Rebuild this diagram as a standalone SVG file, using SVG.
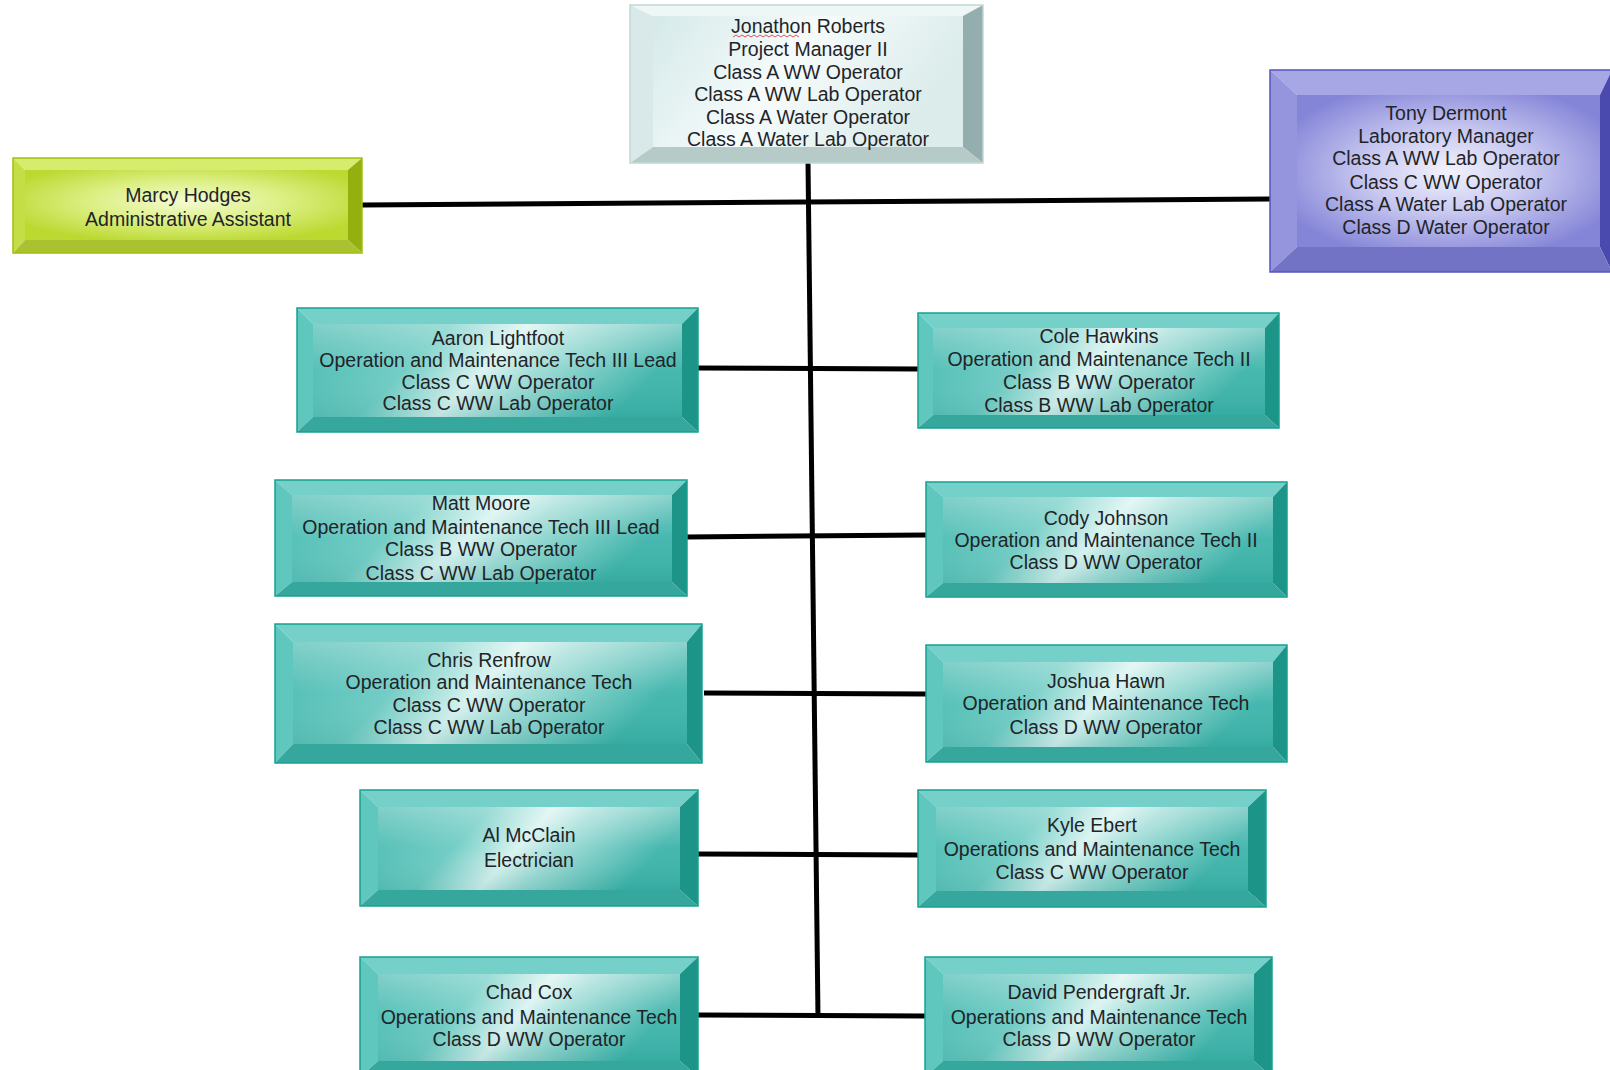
<svg xmlns="http://www.w3.org/2000/svg" width="1610" height="1070" viewBox="0 0 1610 1070">
<defs>
<linearGradient id="gTeal" x1="0" y1="0" x2="1" y2="0.25">
<stop offset="0" stop-color="#3fb7ad"/>
<stop offset="0.35" stop-color="#6ccbc3"/>
<stop offset="0.55" stop-color="#d8f3f0"/>
<stop offset="0.68" stop-color="#9fdcd6"/>
<stop offset="1" stop-color="#3db4aa"/>
</linearGradient>
<linearGradient id="gSheen" x1="0" y1="0" x2="0" y2="1">
<stop offset="0" stop-color="#ffffff" stop-opacity="0.35"/>
<stop offset="0.5" stop-color="#ffffff" stop-opacity="0.05"/>
<stop offset="1" stop-color="#006860" stop-opacity="0.12"/>
</linearGradient>
<linearGradient id="gTop" x1="0" y1="0" x2="1" y2="0.3">
<stop offset="0" stop-color="#d5e9e9"/>
<stop offset="0.5" stop-color="#f6fbfb"/>
<stop offset="1" stop-color="#dbeceb"/>
</linearGradient>
<radialGradient id="gPurple" cx="0.5" cy="0.5" r="0.6">
<stop offset="0" stop-color="#f2f2fd"/>
<stop offset="0.45" stop-color="#c9c9f1"/>
<stop offset="1" stop-color="#8585d8"/>
</radialGradient>
<radialGradient id="gGreen" cx="0.5" cy="0.45" r="0.6">
<stop offset="0" stop-color="#f4fbd2"/>
<stop offset="0.5" stop-color="#dcef84"/>
<stop offset="1" stop-color="#bcd932"/>
</radialGradient>
</defs>
<style>
text{font-family:"Liberation Sans",Arial,Helvetica,sans-serif;font-size:19.5px;fill:#1f2429;text-anchor:middle}
.edge{fill:none;stroke-width:1.5}
.teal .bt{fill:#74d0c8}.teal .bl{fill:#5fc7be}.teal .br{fill:#1d9488}.teal .bb{fill:#36a79c}
.teal .face{fill:url(#gTeal)}.teal .edge{stroke:#17a091}
.sheen{fill:url(#gSheen)}
.grey .bt{fill:#eef6f6}.grey .bl{fill:#d9e9e9}.grey .br{fill:#93aeac}.grey .bb{fill:#b6cac8}
.grey .face{fill:url(#gTop)}.grey .edge{stroke:#c2d6d6}
.purple .bt{fill:#a7a7e5}.purple .bl{fill:#9595dd}.purple .br{fill:#4a4aae}.purple .bb{fill:#7373c6}
.purple .face{fill:url(#gPurple)}.purple .edge{stroke:#5656bd}
.green .bt{fill:#d6ec6c}.green .bl{fill:#c4df46}.green .br{fill:#93b00f}.green .bb{fill:#aac22f}
.green .face{fill:url(#gGreen)}.green .edge{stroke:#9ec113}
.conn{stroke:#000;stroke-width:5;fill:none;stroke-linecap:butt}
</style>
<rect width="1610" height="1070" fill="#ffffff"/>

<g id="connectors">
<line class="conn" x1="808" y1="162" x2="818" y2="1018"/>
<line class="conn" x1="362" y1="205" x2="1270" y2="199"/>
<line class="conn" x1="698" y1="368" x2="918" y2="369"/>
<line class="conn" x1="687" y1="537" x2="926" y2="535"/>
<line class="conn" x1="704" y1="693" x2="926" y2="694"/>
<line class="conn" x1="698" y1="854" x2="918" y2="855"/>
<line class="conn" x1="698" y1="1015" x2="925" y2="1016"/>
</g>

<g id="node-jonathon" class="grey">
<polygon class="bt" points="630,5 983,5 963,16 653,16"/>
<polygon class="bl" points="630,5 653,16 653,147 630,163"/>
<polygon class="br" points="983,5 983,163 963,147 963,16"/>
<polygon class="bb" points="630,163 983,163 963,147 653,147"/>
<rect class="face" x="653" y="16" width="310" height="131"/>
<rect class="edge" x="630" y="5" width="353" height="158"/>
<path d="M733,37 l3,-2 3,2 3,-2 3,2 3,-2 3,2 3,-2 3,2 3,-2 3,2 3,-2 3,2 3,-2 3,2 3,-2 3,2 3,-2 3,2 3,-2 3,2 3,-2 3,2" fill="none" stroke="#e05060" stroke-width="1"/>
<text x="808" y="33">Jonathon Roberts</text>
<text x="808" y="56">Project Manager II</text>
<text x="808" y="78.5">Class A WW Operator</text>
<text x="808" y="101">Class A WW Lab Operator</text>
<text x="808" y="123.5">Class A Water Operator</text>
<text x="808" y="146">Class A Water Lab Operator</text>
</g>

<g id="node-tony" class="purple">
<polygon class="bt" points="1270,70 1612,70 1600,95 1297,95"/>
<polygon class="bl" points="1270,70 1297,95 1297,247 1270,272"/>
<polygon class="br" points="1612,70 1612,272 1600,247 1600,95"/>
<polygon class="bb" points="1270,272 1612,272 1600,247 1297,247"/>
<rect class="face" x="1297" y="95" width="303" height="152"/>
<rect class="edge" x="1270" y="70" width="342" height="202"/>
<text x="1446" y="120">Tony Dermont</text>
<text x="1446" y="142.5">Laboratory Manager</text>
<text x="1446" y="165">Class A WW Lab Operator</text>
<text x="1446" y="188.5">Class C WW Operator</text>
<text x="1446" y="211">Class A Water Lab Operator</text>
<text x="1446" y="234">Class D Water Operator</text>
</g>

<g id="node-marcy" class="green">
<polygon class="bt" points="13,158 362,158 348,170 25,170"/>
<polygon class="bl" points="13,158 25,170 25,240 13,253"/>
<polygon class="br" points="362,158 362,253 348,240 348,170"/>
<polygon class="bb" points="13,253 362,253 348,240 25,240"/>
<rect class="face" x="25" y="170" width="323" height="70"/>
<rect class="edge" x="13" y="158" width="349" height="95"/>
<text x="188" y="201.5">Marcy Hodges</text>
<text x="188" y="226">Administrative Assistant</text>
</g>

<g id="node-aaron" class="teal">
<polygon class="bt" points="297,308 698,308 682,324 313,324"/>
<polygon class="bl" points="297,308 313,324 313,417 297,432"/>
<polygon class="br" points="698,308 698,432 682,417 682,324"/>
<polygon class="bb" points="297,432 698,432 682,417 313,417"/>
<rect class="face" x="313" y="324" width="369" height="93"/>
<rect class="sheen" x="313" y="324" width="369" height="93"/>
<rect class="edge" x="297" y="308" width="401" height="124"/>
<text x="498" y="345">Aaron Lightfoot</text>
<text x="498" y="367">Operation and Maintenance Tech III Lead</text>
<text x="498" y="389">Class C WW Operator</text>
<text x="498" y="410">Class C WW Lab Operator</text>
</g>

<g id="node-cole" class="teal">
<polygon class="bt" points="918,313 1279,313 1265,328 933,328"/>
<polygon class="bl" points="918,313 933,328 933,415 918,428"/>
<polygon class="br" points="1279,313 1279,428 1265,415 1265,328"/>
<polygon class="bb" points="918,428 1279,428 1265,415 933,415"/>
<rect class="face" x="933" y="328" width="332" height="87"/>
<rect class="sheen" x="933" y="328" width="332" height="87"/>
<rect class="edge" x="918" y="313" width="361" height="115"/>
<text x="1099" y="343">Cole Hawkins</text>
<text x="1099" y="366">Operation and Maintenance Tech II</text>
<text x="1099" y="389">Class B WW Operator</text>
<text x="1099" y="412">Class B WW Lab Operator</text>
</g>

<g id="node-matt" class="teal">
<polygon class="bt" points="275,480 687,480 672,495 292,495"/>
<polygon class="bl" points="275,480 292,495 292,582 275,596"/>
<polygon class="br" points="687,480 687,596 672,582 672,495"/>
<polygon class="bb" points="275,596 687,596 672,582 292,582"/>
<rect class="face" x="292" y="495" width="380" height="87"/>
<rect class="sheen" x="292" y="495" width="380" height="87"/>
<rect class="edge" x="275" y="480" width="412" height="116"/>
<text x="481" y="510">Matt Moore</text>
<text x="481" y="533.5">Operation and Maintenance Tech III Lead</text>
<text x="481" y="556">Class B WW Operator</text>
<text x="481" y="580">Class C WW Lab Operator</text>
</g>

<g id="node-cody" class="teal">
<polygon class="bt" points="926,482 1287,482 1273,497 943,497"/>
<polygon class="bl" points="926,482 943,497 943,583 926,597"/>
<polygon class="br" points="1287,482 1287,597 1273,583 1273,497"/>
<polygon class="bb" points="926,597 1287,597 1273,583 943,583"/>
<rect class="face" x="943" y="497" width="330" height="86"/>
<rect class="sheen" x="943" y="497" width="330" height="86"/>
<rect class="edge" x="926" y="482" width="361" height="115"/>
<text x="1106" y="525">Cody Johnson</text>
<text x="1106" y="547">Operation and Maintenance Tech II</text>
<text x="1106" y="569">Class D WW Operator</text>
</g>

<g id="node-chris" class="teal">
<polygon class="bt" points="275,624 702,624 687,642 293,642"/>
<polygon class="bl" points="275,624 293,642 293,744 275,763"/>
<polygon class="br" points="702,624 702,763 687,744 687,642"/>
<polygon class="bb" points="275,763 702,763 687,744 293,744"/>
<rect class="face" x="293" y="642" width="394" height="102"/>
<rect class="sheen" x="293" y="642" width="394" height="102"/>
<rect class="edge" x="275" y="624" width="427" height="139"/>
<text x="489" y="667">Chris Renfrow</text>
<text x="489" y="689">Operation and Maintenance Tech</text>
<text x="489" y="712">Class C WW Operator</text>
<text x="489" y="734">Class C WW Lab Operator</text>
</g>

<g id="node-joshua" class="teal">
<polygon class="bt" points="926,645 1287,645 1273,662 943,662"/>
<polygon class="bl" points="926,645 943,662 943,747 926,762"/>
<polygon class="br" points="1287,645 1287,762 1273,747 1273,662"/>
<polygon class="bb" points="926,762 1287,762 1273,747 943,747"/>
<rect class="face" x="943" y="662" width="330" height="85"/>
<rect class="sheen" x="943" y="662" width="330" height="85"/>
<rect class="edge" x="926" y="645" width="361" height="117"/>
<text x="1106" y="688">Joshua Hawn</text>
<text x="1106" y="710">Operation and Maintenance Tech</text>
<text x="1106" y="734">Class D WW Operator</text>
</g>

<g id="node-al" class="teal">
<polygon class="bt" points="360,790 698,790 680,807 378,807"/>
<polygon class="bl" points="360,790 378,807 378,890 360,906"/>
<polygon class="br" points="698,790 698,906 680,890 680,807"/>
<polygon class="bb" points="360,906 698,906 680,890 378,890"/>
<rect class="face" x="378" y="807" width="302" height="83"/>
<rect class="sheen" x="378" y="807" width="302" height="83"/>
<rect class="edge" x="360" y="790" width="338" height="116"/>
<text x="529" y="842">Al McClain</text>
<text x="529" y="867">Electrician</text>
</g>

<g id="node-kyle" class="teal">
<polygon class="bt" points="918,790 1266,790 1248,807 936,807"/>
<polygon class="bl" points="918,790 936,807 936,891 918,907"/>
<polygon class="br" points="1266,790 1266,907 1248,891 1248,807"/>
<polygon class="bb" points="918,907 1266,907 1248,891 936,891"/>
<rect class="face" x="936" y="807" width="312" height="84"/>
<rect class="sheen" x="936" y="807" width="312" height="84"/>
<rect class="edge" x="918" y="790" width="348" height="117"/>
<text x="1092" y="832">Kyle Ebert</text>
<text x="1092" y="856">Operations and Maintenance Tech</text>
<text x="1092" y="879">Class C WW Operator</text>
</g>

<g id="node-chad" class="teal">
<polygon class="bt" points="360,957 698,957 680,974 378,974"/>
<polygon class="bl" points="360,957 378,974 378,1061 360,1077"/>
<polygon class="br" points="698,957 698,1077 680,1061 680,974"/>
<polygon class="bb" points="360,1077 698,1077 680,1061 378,1061"/>
<rect class="face" x="378" y="974" width="302" height="87"/>
<rect class="sheen" x="378" y="974" width="302" height="87"/>
<rect class="edge" x="360" y="957" width="338" height="120"/>
<text x="529" y="999">Chad Cox</text>
<text x="529" y="1024">Operations and Maintenance Tech</text>
<text x="529" y="1046">Class D WW Operator</text>
</g>

<g id="node-david" class="teal">
<polygon class="bt" points="925,957 1272,957 1254,974 943,974"/>
<polygon class="bl" points="925,957 943,974 943,1061 925,1077"/>
<polygon class="br" points="1272,957 1272,1077 1254,1061 1254,974"/>
<polygon class="bb" points="925,1077 1272,1077 1254,1061 943,1061"/>
<rect class="face" x="943" y="974" width="311" height="87"/>
<rect class="sheen" x="943" y="974" width="311" height="87"/>
<rect class="edge" x="925" y="957" width="347" height="120"/>
<text x="1099" y="999">David Pendergraft Jr.</text>
<text x="1099" y="1024">Operations and Maintenance Tech</text>
<text x="1099" y="1046">Class D WW Operator</text>
</g>
</svg>
